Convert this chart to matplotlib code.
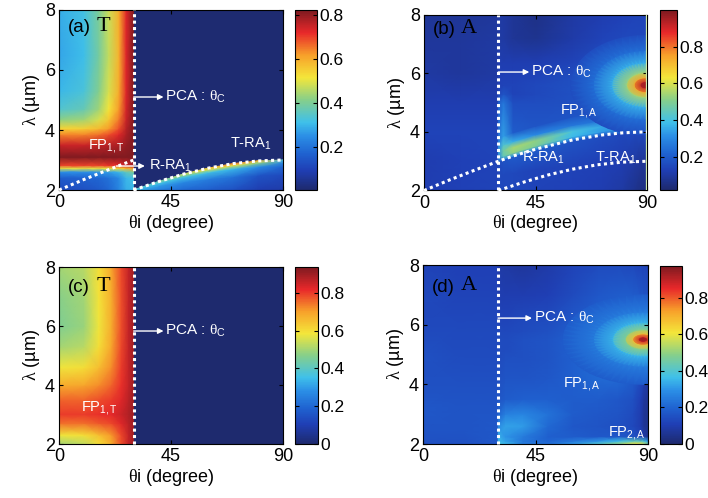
import numpy as np
import matplotlib
matplotlib.use('Agg')
import matplotlib.pyplot as plt
from matplotlib.colors import LinearSegmentedColormap, Normalize
from matplotlib.cm import ScalarMappable

plt.rcParams['font.family'] = ['Liberation Sans', 'DejaVu Sans']
plt.rcParams['mathtext.fontset'] = 'custom'
plt.rcParams['mathtext.rm'] = 'Liberation Sans'
plt.rcParams['mathtext.it'] = 'Liberation Serif'
plt.rcParams['mathtext.bf'] = 'Liberation Sans:bold'

# ---------------- data ----------------
theta_c = 30
# Rayleigh anomaly lines (deg, um)
rra_theta = [0, 10, 20, 30, 32, 36, 45, 60, 72, 80, 85, 88, 90]
rra_lam = [2.0, 2.35, 2.68, 3.0, 3.06, 3.18, 3.41, 3.73, 3.9, 3.97, 3.99, 4.0, 4.0]
tra_theta = [30, 40, 50, 60, 70, 80, 90]
tra_lam = [2.0, 2.28, 2.53, 2.73, 2.88, 2.97, 3.0]

# (a) transmission, theta < theta_c
a_theta = [0, 10, 16, 20, 24, 27, 29.9]
a_lam = [2.0, 2.4, 2.6, 2.72, 2.82, 3.1, 3.5, 3.85, 4.05, 4.35, 4.7, 5.3, 6.5, 8.0]
a_vals = [
    [0.12, 0.13, 0.15, 0.18, 0.23, 0.29, 0.30],
    [0.16, 0.17, 0.18, 0.20, 0.24, 0.30, 0.32],
    [0.25, 0.25, 0.26, 0.27, 0.30, 0.36, 0.40],
    [0.50, 0.50, 0.50, 0.51, 0.53, 0.58, 0.62],
    [0.70, 0.70, 0.70, 0.71, 0.72, 0.75, 0.78],
    [0.82, 0.82, 0.82, 0.82, 0.82, 0.82, 0.82],
    [0.75, 0.75, 0.76, 0.77, 0.78, 0.80, 0.82],
    [0.64, 0.64, 0.66, 0.69, 0.73, 0.78, 0.82],
    [0.54, 0.55, 0.58, 0.62, 0.69, 0.77, 0.82],
    [0.42, 0.44, 0.49, 0.56, 0.65, 0.75, 0.82],
    [0.34, 0.37, 0.44, 0.52, 0.62, 0.74, 0.82],
    [0.30, 0.33, 0.41, 0.49, 0.60, 0.73, 0.82],
    [0.28, 0.31, 0.39, 0.47, 0.59, 0.73, 0.82],
    [0.29, 0.32, 0.40, 0.48, 0.60, 0.73, 0.82],
]
# (a) below the T-RA line, rows = fraction of the height up to the line
a_tra_frac = [0, 0.5, 0.8, 0.93, 1.0]
a_tra_vals = [
    [0.30, 0.22, 0.18, 0.16, 0.13, 0.09, 0.08],
    [0.30, 0.27, 0.24, 0.22, 0.20, 0.14, 0.12],
    [0.30, 0.32, 0.32, 0.32, 0.30, 0.25, 0.18],
    [0.30, 0.36, 0.42, 0.48, 0.50, 0.42, 0.25],
    [0.30, 0.38, 0.48, 0.58, 0.65, 0.58, 0.30],
]
a_outside = 0.01

# (b) absorption
b_left_theta = [0, 15, 30]
b_left_lam = [2, 3, 4, 5, 6, 7, 8]
b_left_vals = [
    [0.12, 0.13, 0.14],
    [0.12, 0.13, 0.14],
    [0.14, 0.14, 0.14],
    [0.12, 0.12, 0.12],
    [0.10, 0.09, 0.10],
    [0.09, 0.09, 0.10],
    [0.08, 0.08, 0.09],
]
b_low_frac = [0, 0.5, 1.0]
b_low_vals = [
    [0.15, 0.15, 0.15, 0.14, 0.13, 0.12, 0.10, 0.07, 0.05, 0.05],
    [0.15, 0.15, 0.15, 0.14, 0.14, 0.13, 0.12, 0.10, 0.08, 0.08],
    [0.15, 0.18, 0.20, 0.20, 0.18, 0.16, 0.15, 0.15, 0.15, 0.15],
]
b_up_gap = [0, 0.12, 0.3, 0.5, 0.8]      # rows that follow the R-RA line
b_up_lam = [5.0, 5.3, 5.6, 5.9, 6.4, 7.2, 8.0]
b_up_vals = [
    [0.18, 0.28, 0.32, 0.30, 0.24, 0.20, 0.18, 0.18, 0.18, 0.18],
    [0.28, 0.45, 0.52, 0.50, 0.38, 0.33, 0.30, 0.28, 0.28, 0.28],
    [0.32, 0.48, 0.55, 0.52, 0.40, 0.35, 0.33, 0.32, 0.32, 0.32],
    [0.30, 0.42, 0.36, 0.30, 0.26, 0.25, 0.26, 0.28, 0.30, 0.30],
    [0.24, 0.34, 0.20, 0.18, 0.18, 0.19, 0.21, 0.24, 0.27, 0.27],
    [0.20, 0.26, 0.16, 0.16, 0.17, 0.19, 0.20, 0.22, 0.24, 0.24],
    [0.14, 0.18, 0.14, 0.15, 0.17, 0.18, 0.18, 0.18, 0.18, 0.18],
    [0.13, 0.14, 0.14, 0.15, 0.17, 0.18, 0.18, 0.18, 0.18, 0.18],
    [0.13, 0.13, 0.13, 0.14, 0.16, 0.17, 0.17, 0.17, 0.17, 0.17],
    [0.12, 0.12, 0.12, 0.12, 0.14, 0.16, 0.16, 0.16, 0.16, 0.16],
    [0.10, 0.10, 0.08, 0.07, 0.11, 0.14, 0.15, 0.15, 0.15, 0.15],
    [0.10, 0.10, 0.08, 0.06, 0.10, 0.12, 0.13, 0.14, 0.14, 0.14],
]
# hot spot at the right edge: centre, half widths (deg, um), radial profile
b_spot_center = (89.3, 5.6)
b_spot_half = (30, 1.7)
b_spot_frac = [0, 0.07, 0.15, 0.25, 0.45, 0.7, 1.0]
b_spot_vals = [0.98, 0.92, 0.75, 0.55, 0.36, 0.24, 0.16]

# (c) transmission, theta < theta_c
c_theta = [0, 10, 16, 21, 25, 28, 29.9]
c_lam = [2.0, 2.3, 2.7, 3.0, 3.5, 4.0, 4.6, 5.3, 6.0, 7.0, 8.0]
c_vals = [
    [0.50, 0.53, 0.60, 0.68, 0.78, 0.86, 0.90],
    [0.58, 0.60, 0.65, 0.71, 0.79, 0.86, 0.90],
    [0.75, 0.75, 0.77, 0.79, 0.83, 0.87, 0.90],
    [0.80, 0.80, 0.81, 0.82, 0.85, 0.88, 0.90],
    [0.76, 0.76, 0.78, 0.80, 0.83, 0.87, 0.90],
    [0.68, 0.69, 0.72, 0.76, 0.81, 0.86, 0.90],
    [0.58, 0.60, 0.65, 0.72, 0.80, 0.86, 0.90],
    [0.50, 0.52, 0.60, 0.69, 0.79, 0.86, 0.90],
    [0.46, 0.49, 0.58, 0.68, 0.78, 0.86, 0.90],
    [0.47, 0.50, 0.59, 0.68, 0.78, 0.86, 0.90],
    [0.50, 0.52, 0.60, 0.69, 0.79, 0.86, 0.90],
]
c_outside = 0.0

# (d) absorption
d_left_theta = [0, 15, 29.9]
d_left_lam = [2, 2.5, 3.2, 4, 5, 6, 7, 8]
d_left_vals = [
    [0.15, 0.15, 0.17],
    [0.16, 0.16, 0.17],
    [0.17, 0.16, 0.16],
    [0.15, 0.15, 0.15],
    [0.15, 0.14, 0.14],
    [0.13, 0.13, 0.13],
    [0.13, 0.12, 0.12],
    [0.12, 0.11, 0.11],
]
d_right_theta = [30.1, 33, 40, 50, 60, 70, 78, 84, 87, 88.5, 90]
d_right_lam = [2.0, 2.1, 2.25, 2.6, 3.0, 3.5, 4.2, 4.8, 5.2, 5.5, 5.8, 6.2, 7.0, 8.0]
d_right_vals = [
    [0.38, 0.35, 0.25, 0.22, 0.30, 0.40, 0.50, 0.60, 0.62, 0.55, 0.45],
    [0.36, 0.32, 0.24, 0.20, 0.24, 0.30, 0.36, 0.42, 0.42, 0.38, 0.30],
    [0.34, 0.30, 0.25, 0.19, 0.18, 0.17, 0.17, 0.16, 0.12, 0.08, 0.06],
    [0.28, 0.32, 0.31, 0.21, 0.17, 0.16, 0.15, 0.13, 0.10, 0.06, 0.05],
    [0.20, 0.26, 0.27, 0.23, 0.18, 0.17, 0.16, 0.14, 0.10, 0.06, 0.05],
    [0.16, 0.18, 0.19, 0.19, 0.18, 0.18, 0.17, 0.15, 0.11, 0.07, 0.06],
    [0.15, 0.16, 0.16, 0.17, 0.19, 0.21, 0.21, 0.18, 0.14, 0.10, 0.08],
    [0.14, 0.15, 0.15, 0.16, 0.19, 0.22, 0.22, 0.20, 0.18, 0.17, 0.16],
    [0.14, 0.14, 0.15, 0.16, 0.19, 0.21, 0.20, 0.19, 0.18, 0.18, 0.18],
    [0.14, 0.14, 0.15, 0.16, 0.19, 0.21, 0.20, 0.19, 0.18, 0.18, 0.18],
    [0.13, 0.13, 0.14, 0.15, 0.18, 0.20, 0.20, 0.19, 0.18, 0.18, 0.18],
    [0.12, 0.12, 0.13, 0.14, 0.17, 0.19, 0.19, 0.18, 0.17, 0.17, 0.17],
    [0.10, 0.10, 0.10, 0.11, 0.14, 0.17, 0.18, 0.18, 0.17, 0.16, 0.15],
    [0.09, 0.08, 0.07, 0.09, 0.12, 0.14, 0.14, 0.13, 0.12, 0.12, 0.12],
]
d_spot_center = (88.0, 5.5)
d_spot_half = (32, 1.5)
d_spot_frac = [0, 0.06, 0.13, 0.22, 0.38, 0.62, 1.0]
d_spot_vals = [0.97, 0.88, 0.68, 0.50, 0.35, 0.25, 0.18]

# colour ranges of the four colour bars
a_range = (0.005, 0.825)
b_range = (0.018, 1.0)
c_range = (0.0, 0.937)
d_range = (0.0, 0.973)
cb_ticks_ab = [0.2, 0.4, 0.6, 0.8]
cb_ticks_cd = [0, 0.2, 0.4, 0.6, 0.8]

# ---------------- drawing ----------------
cmap = LinearSegmentedColormap.from_list('washed_jet', [
    (0.00, '#1e2a6e'), (0.11, '#1f3fb5'), (0.20, '#1f62d0'),
    (0.30, '#2b8fe6'), (0.375, '#3fc0ea'), (0.50, '#86cf8a'),
    (0.625, '#f4e63a'), (0.75, '#f7a02a'), (0.875, '#e8282a'),
    (1.00, '#7e1a20')])

fig = plt.figure(figsize=(7.08, 4.98), dpi=100)


def mesh(ax, X, Y, vals, norm):
    if np.ndim(X) == 1:
        X, Y = np.meshgrid(X, Y)
    ax.pcolormesh(X, Y, np.array(vals), shading='gouraud', cmap=cmap, norm=norm)


def under_line(line_theta, line_lam, frac):
    # mesh whose rows follow a fraction of the way from 2 um up to a line
    X = np.tile(np.array(line_theta, float), (len(frac), 1))
    Y = 2 + np.outer(frac, np.array(line_lam) - 2)
    return X, Y


def spot(ax, center, half, frac, vals, norm):
    phi = np.linspace(0, 2 * np.pi, 61)
    X = center[0] + np.outer(frac, np.cos(phi)) * half[0]
    Y = center[1] + np.outer(frac, np.sin(phi)) * half[1]
    C = np.repeat(np.array(vals)[:, None], len(phi), axis=1)
    mesh(ax, X, Y, C, norm)


def style(ax, cax, norm, ticks, ticklabels=None):
    ax.set_xlim(0, 90)
    ax.set_ylim(2, 8)
    ax.set_xticks([0, 45, 90])
    ax.set_yticks([2, 4, 6, 8])
    ax.tick_params(direction='in', length=3, top=True, right=True, labelsize=13, pad=3)
    ax.set_xlabel(r'$\mathit{\theta}$i (degree)', fontsize=13, labelpad=1)
    ax.set_ylabel(r'$\mathit{\lambda}$ (µm)', fontsize=13, labelpad=2)
    cb = fig.colorbar(ScalarMappable(norm=norm, cmap=cmap), cax=cax, ticks=ticks)
    if ticklabels:
        cb.set_ticklabels(ticklabels)
    cb.outline.set_linewidth(0.8)
    cax.tick_params(direction='in', length=3, labelsize=12.5, left=True, right=True, pad=1.5)


def dotted(ax, x, y):
    ax.plot(x, y, color='white', lw=2.2, ls=(0, (1, 1.1)), dash_capstyle='butt',
            solid_capstyle='butt', clip_on=False, zorder=4)


def arrow(ax, x0, x1, lam):
    ax.annotate('', xy=(x1, lam), xytext=(x0, lam),
                arrowprops=dict(arrowstyle='-|>', color='white', lw=1, mutation_scale=8,
                                shrinkA=0, shrinkB=0), zorder=5)


def pca(ax, lam, x_end):
    arrow(ax, theta_c, x_end, lam)
    ax.text(x_end + 0.6, lam, r'PCA : $\mathit{\theta}_{\mathrm{C}}$', color='white',
            fontsize=11, va='center', ha='left', zorder=5)


def tag(ax, letter, sym, lam):
    ax.text(3.5, lam, '(%s)' % letter, fontsize=13.5, va='center', ha='left', zorder=5)
    ax.text(15.0, lam + 0.05, sym, fontsize=16, family='Liberation Serif',
            va='center', ha='left', zorder=5)


def label(ax, x, y, s):
    ax.text(x, y, s, color='white', fontsize=10.5, va='center', ha='left', zorder=5)


W, H = 708, 498


def box(x0, y0, x1, y1):
    return [x0 / W, 1 - y1 / H, (x1 - x0) / W, (y1 - y0) / H]


# ---- (a)
ax = fig.add_axes(box(59, 10, 283, 190))
cax = fig.add_axes(box(295, 10, 317, 190))
norm = Normalize(*a_range)
ax.set_facecolor(cmap(norm(a_outside)))
mesh(ax, a_theta, a_lam, a_vals, norm)
X, Y = under_line(tra_theta, tra_lam, a_tra_frac)
mesh(ax, X, Y, a_tra_vals, norm)
dotted(ax, rra_theta[:4], rra_lam[:4])
dotted(ax, tra_theta, tra_lam)
dotted(ax, [theta_c, theta_c], [2, 8])
style(ax, cax, norm, cb_ticks_ab)
tag(ax, 'a', 'T', 7.4)
pca(ax, 5.1, 42)
label(ax, 11.6, 3.47, r'FP$_{\mathrm{1,T}}$')
arrow(ax, 23, 34.5, 2.8)
label(ax, 36, 2.8, r'R-RA$_{\mathrm{1}}$')
label(ax, 68.7, 3.55, r'T-RA$_{\mathrm{1}}$')

# ---- (b)
ax = fig.add_axes(box(424, 15, 647, 190.5))
cax = fig.add_axes(box(660, 10, 677, 190))
norm = Normalize(*b_range)
mesh(ax, b_left_theta, b_left_lam, b_left_vals, norm)
X, Y = under_line(rra_theta[3:], rra_lam[3:], b_low_frac)
mesh(ax, X, Y, b_low_vals, norm)
X = np.tile(np.array(rra_theta[3:], float), (len(b_up_gap) + len(b_up_lam), 1))
Y = np.vstack([np.array(rra_lam[3:]) + g for g in b_up_gap] +
              [np.full(len(rra_theta[3:]), v) for v in b_up_lam])
mesh(ax, X, Y, b_up_vals, norm)
spot(ax, b_spot_center, b_spot_half, b_spot_frac, b_spot_vals, norm)
ax.axvline(89.6, color='#cfe8a8', lw=0.9, zorder=3)
dotted(ax, rra_theta, rra_lam)
dotted(ax, tra_theta, tra_lam)
dotted(ax, [theta_c, theta_c], [2, 8])
style(ax, cax, norm, cb_ticks_ab)
tag(ax, 'b', 'A', 7.5)
pca(ax, 6.05, 42.5)
label(ax, 54.7, 4.7, r'FP$_{\mathrm{1,A}}$')
label(ax, 39.7, 3.12, r'R-RA$_{\mathrm{1}}$')
label(ax, 69, 3.12, r'T-RA$_{\mathrm{1}}$')

# ---- (c)
ax = fig.add_axes(box(59, 267, 283, 444))
cax = fig.add_axes(box(295, 267, 318, 444))
norm = Normalize(*c_range)
ax.set_facecolor(cmap(norm(c_outside)))
mesh(ax, c_theta, c_lam, c_vals, norm)
dotted(ax, [theta_c, theta_c], [2, 8])
style(ax, cax, norm, cb_ticks_cd, ['0', '0.2', '0.4', '0.6', '0.8'])
tag(ax, 'c', 'T', 7.3)
pca(ax, 5.83, 42)
label(ax, 9, 3.2, r'FP$_{\mathrm{1,T}}$')

# ---- (d)
ax = fig.add_axes(box(423, 265, 648, 444))
cax = fig.add_axes(box(660, 266, 682, 444))
norm = Normalize(*d_range)
mesh(ax, d_left_theta, d_left_lam, d_left_vals, norm)
mesh(ax, d_right_theta, d_right_lam, d_right_vals, norm)
spot(ax, d_spot_center, d_spot_half, d_spot_frac, d_spot_vals, norm)
dotted(ax, [theta_c, theta_c], [2, 8])
style(ax, cax, norm, cb_ticks_cd, ['0', '0.2', '0.4', '0.6', '0.8'])
tag(ax, 'd', 'A', 7.25)
pca(ax, 6.22, 43.6)
label(ax, 56, 4.0, r'FP$_{\mathrm{1,A}}$')
label(ax, 74, 2.36, r'FP$_{\mathrm{2,A}}$')

fig.savefig('out.png', dpi=100)
